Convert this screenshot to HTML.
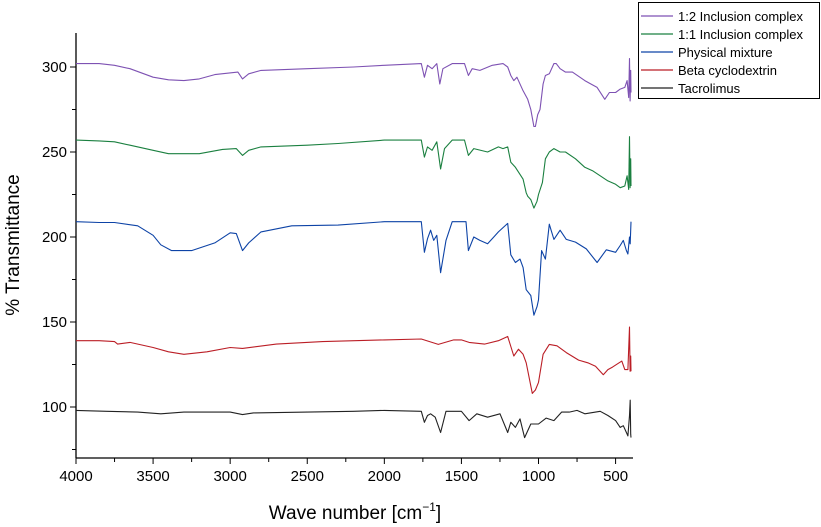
<!DOCTYPE html>
<html><head><meta charset="utf-8"><style>
body{margin:0;background:#fff}
svg{display:block;font-family:"Liberation Sans",Arial,sans-serif}
</style></head><body>
<svg id="chart" width="821" height="527" viewBox="0 0 821 527">
<g id="axes"></g>
<g id="series"></g>
<text x="0" y="0" transform="translate(19,245) rotate(-90)" text-anchor="middle" font-size="19" fill="#000">% Transmittance</text>
<text x="355" y="519" text-anchor="middle" font-size="19" fill="#000">Wave number [cm<tspan dy="-8" font-size="12">−1</tspan><tspan dy="8">]</tspan></text>
<g id="legend"></g>
</svg>
<script>
const xTicks=[4000,3500,3000,2500,2000,1500,1000,500];
const yTicks=[100,150,200,250,300];
const seriesNames=["1:2 Inclusion complex","1:1 Inclusion complex","Physical mixture","Beta cyclodextrin","Tacrolimus"];
const seriesColors=["#7e52b3","#1b8040","#0d43a6","#bb1e26","#222222"];
const purple=[[4000,302],[3850,302],[3750,301],[3650,299],[3500,294],[3400,292.5],[3300,292],[3200,293],[3100,295.5],[2950,297],[2920,293],[2880,296],[2800,298],[2500,299],[2200,300],[2000,301],[1760,302],[1740,294],[1720,301],[1690,299],[1660,302],[1640,290],[1620,299],[1560,302],[1480,302],[1455,295],[1430,299],[1380,298],[1300,301],[1230,302],[1200,300],[1180,295],[1160,292],[1140,294],[1100,286],[1070,281],[1050,275],[1030,265],[1020,265],[1005,272],[990,275],[970,290],[955,295],[930,296],[900,302],[885,302],[860,299],[825,297],[780,297],[700,292],[660,290],[620,288],[570,281],[540,285],[500,285],[470,287],[440,288],[425,292],[415,282],[410,305],[406,280],[402,298],[400,285]];
const green=[[4000,257],[3850,256.5],[3750,256],[3650,254],[3500,251],[3400,249],[3200,249],[3050,251.5],[2960,252],[2920,248],[2880,251],[2800,253],[2500,254],[2300,255],[2000,257],[1760,257],[1740,247],[1720,253],[1690,251],[1660,256],[1635,240],[1610,252],[1560,257],[1480,257],[1455,248],[1420,252],[1330,250],[1260,253],[1230,252],[1200,253],[1180,244],[1150,241],[1100,234],[1080,226],[1070,224],[1050,222],[1030,217],[1010,221],[1000,225],[975,232],[955,246],[930,250],[900,252],[860,250],[825,250],[760,246],[700,241],[650,239],[600,236],[550,233],[500,231],[470,229],[440,230],[425,236],[415,228],[410,259],[406,229],[402,246],[400,230]];
const blue=[[4000,209],[3850,208.5],[3750,208.5],[3600,206.6],[3500,201],[3450,195.4],[3380,192],[3250,192],[3100,196.5],[3000,202.5],[2960,202],[2920,192],[2880,196.5],[2800,203],[2600,206.6],[2300,207],[2000,209],[1760,209],[1740,191],[1720,199],[1700,204],[1680,198],[1660,201],[1635,179],[1600,198],[1560,209],[1470,209],[1455,192],[1420,200],[1380,198],[1330,196],[1290,200],[1260,203],[1200,208],[1180,189.5],[1150,185],[1120,187],[1100,182],[1080,169],[1050,165.6],[1030,154],[1010,159],[1000,163],[980,192],[955,187],[930,207.5],[900,198.6],[860,204],[820,198.6],[760,197],[690,193],[620,185],[560,192.5],[500,191],[470,195],[450,198],[430,192],[420,190],[410,200],[405,196],[400,209]];
const red=[[4000,139],[3850,139],[3750,138.5],[3730,137],[3650,138],[3500,135],[3400,132.5],[3300,131],[3150,132.5],[3000,135],[2920,134.5],[2700,137],[2400,138.5],[2000,139.5],[1760,140],[1650,136.8],[1550,139.5],[1500,139.5],[1450,138],[1350,137],[1260,139],[1200,141.5],[1160,130],[1130,134],[1100,131],[1080,126],[1040,108],[1020,110],[1000,114.5],[970,131],[930,136.8],[880,136],[820,132],[740,127.6],[680,126],[630,124],[580,119],[550,122],[520,123.5],[460,127],[440,122],[420,122],[410,147],[406,121],[402,130],[400,121]];
const black=[[4000,98],[3800,97.5],[3600,97],[3450,96],[3300,97],[3000,97],[2920,95.5],[2850,96.5],[2500,97],[2200,97.5],[2000,98],[1760,97.5],[1740,91],[1720,95],[1700,96],[1670,94],[1635,85],[1600,97.5],[1500,97.5],[1450,92],[1400,96],[1330,94],[1250,96],[1200,85],[1180,91],[1150,88],[1120,93],[1090,82],[1050,90],[1000,90],[950,93.5],[900,92],[850,97],[800,97],[750,98],[700,96],[600,97.5],[550,95],[500,92],[470,88],[450,89],[430,85],[420,83],[410,95],[405,104],[402,84],[400,82]];
const seriesData=[purple,green,blue,red,black];

const X0=76,X1=631,Y0=458,YT=33;
const xMin=4000,xMax=400,yMin=70,yMax=320;
function sx(w){return X0+(xMin-w)/(xMin-xMax)*(X1-X0);}
function sy(v){return Y0-(v-yMin)/(yMax-yMin)*(Y0-YT);}
const NS="http://www.w3.org/2000/svg";
function mk(tag,attrs,parent){const e=document.createElementNS(NS,tag);for(const k in attrs)e.setAttribute(k,attrs[k]);parent.appendChild(e);return e;}
const axes=document.getElementById('axes');
let a=mk('line',{x1:X0,y1:YT,x2:X0,y2:Y0,stroke:'#000','stroke-width':1.3},axes);


a=mk('line',{x1:X0,y1:Y0,x2:X1+2,y2:Y0,stroke:'#000','stroke-width':1.3},axes);


for(let w=4000;w>=400;w-=250){
  const major=w%500===0;
  const t=mk('line',{x1:sx(w),x2:sx(w),y1:Y0,y2:Y0+(major?6:4),stroke:'#000','stroke-width':1},axes);
  
  
}
xTicks.forEach(w=>{
  const t=mk('text',{x:sx(w),y:Y0+23,'text-anchor':'middle','font-size':15},axes);t.textContent=w;
  
  
});
for(let v=75;v<=300;v+=25){
  const major=v%50===0;
  const t=mk('line',{x1:X0-(major?6:4),x2:X0,y1:sy(v),y2:sy(v),stroke:'#000','stroke-width':1},axes);
  
  
}
yTicks.forEach(v=>{
  const t=mk('text',{x:X0-9,y:sy(v)+5,'text-anchor':'end','font-size':15},axes);t.textContent=v;
  
  
});
const sg=document.getElementById('series');
seriesData.forEach((d,i)=>{
  const p=mk('polyline',{points:d.map(q=>sx(q[0]).toFixed(1)+','+sy(q[1]).toFixed(1)).join(' '),fill:'none',stroke:seriesColors[i],'stroke-width':1.1,'stroke-linejoin':'round'},sg);
  
  
});
const lg=document.getElementById('legend');
const box=mk('rect',{x:638.5,y:2.5,width:181,height:96,fill:'#fff',stroke:'#000','stroke-width':1},lg);


seriesNames.forEach((n,i)=>{
  const y=16+i*18;
  const l=mk('line',{x1:641,x2:673,y1:y,y2:y,stroke:seriesColors[i],'stroke-width':1.2},lg);
  
  
  const t=mk('text',{x:678,y:y+5,'font-size':13},lg);t.textContent=n;
  
  
});
</script>
</body></html>
